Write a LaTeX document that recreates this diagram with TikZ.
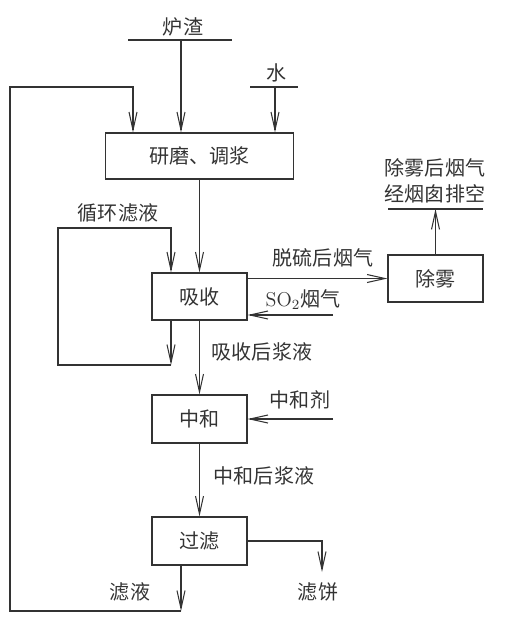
\documentclass[tikz,border=0pt]{standalone}
\usepackage{fontspec}
\newfontfamily\cjk{Noto Sans CJK SC}
\usetikzlibrary{arrows.meta}
\tikzset{
	box/.style={draw, rectangle, minimum width=1.9cm, minimum height=0.94cm, inner sep=0pt},
	flow/.style={-{Straight Barb[length=3.6mm, width=1.6mm]}},
	lbl/.style={inner sep=1pt}
}
\begin{document}
\begin{tikzpicture}[x=0.02cm, y=-0.02cm, line width=0.6pt, color=black!80, font=\cjk\fontsize{11.4}{14.8}\selectfont]
	\useasboundingbox (0, 0) rectangle (510, 639);
	% Boxes:
	\node[box, minimum width=3.76cm, minimum height=0.92cm] (mill) at (199.5, 156){研磨、调浆};
	\node[box] (absorb) at (199.5, 296.5){吸收};
	\node[box] (demist) at (435.5, 278.5){除雾};
	\node[box, minimum height=0.96cm] (neutral) at (199.5, 419){中和};
	\node[box, minimum height=0.96cm] (filter) at (199.5, 541){过滤};
	% Free ends:
	\coordinate (slag) at (181, 40);
	\coordinate (water) at (275, 87);
	\coordinate (back) at (133, 87);
	\coordinate (filtrate) at (181, 611);
	\coordinate (recirc) at (171, 365);
	\coordinate (so2in) at (333, 315);
	\coordinate (stack) at (435.5, 209);
	\coordinate (agent) at (333, 419);
	\coordinate (cake) at (322, 572);
	% Paths, nodes and wires:
	\draw (128, 40) -- (232, 40);
	\node[lbl] (slaglbl) at (183, 27){炉渣};
	\draw[flow] (slag) -- (slag |- mill.north);
	\draw (250, 87) -- (298, 87);
	\node[lbl] (waterlbl) at (277, 73){水};
	\draw[flow] (water) -- (water |- mill.north);
	\draw[flow] (mill.south) -- (absorb.north);
	\draw[flow] (absorb.south -| recirc) -- (recirc);
	\draw[flow] (recirc) -| (58, 228) -| (absorb.north -| recirc);
	\node[lbl] (recirclbl) at (118, 213){循环滤液};
	\draw[flow] (absorb.east |- demist) -- (demist.west);
	\node[lbl] (gaslbl) at (323, 258){脱硫后烟气};
	\draw[flow] (so2in) -- (so2in -| absorb.east);
	\node[lbl] (so2lbl) at (303, 300){{\rmfamily SO$_2$}烟气};
	\draw[flow] (demist.north) -- (stack);
	\draw (388, 209) -- (483, 209);
	\node[lbl, align=center] (stacklbl) at (435, 181){除雾后烟气\\经烟囱排空};
	\draw[flow] (absorb.south) -- (neutral.north);
	\node[lbl] (slurrylbl) at (262, 352){吸收后浆液};
	\draw[flow] (agent) -- (neutral.east);
	\node[lbl] (agentlbl) at (300, 400){中和剂};
	\draw[flow] (neutral.south) -- (filter.north);
	\node[lbl] (neutlbl) at (264, 476){中和后浆液};
	\draw[flow] (filter.east) -| (cake);
	\node[lbl] (cakelbl) at (318, 592){滤饼};
	\draw[flow] (filter.south -| filtrate) -- (filtrate);
	\node[lbl] (filtratelbl) at (130, 592){滤液};
	\draw[flow] (filtrate) -| (10, 87) -- (back) -- (back |- mill.north);
\end{tikzpicture}
\end{document}
